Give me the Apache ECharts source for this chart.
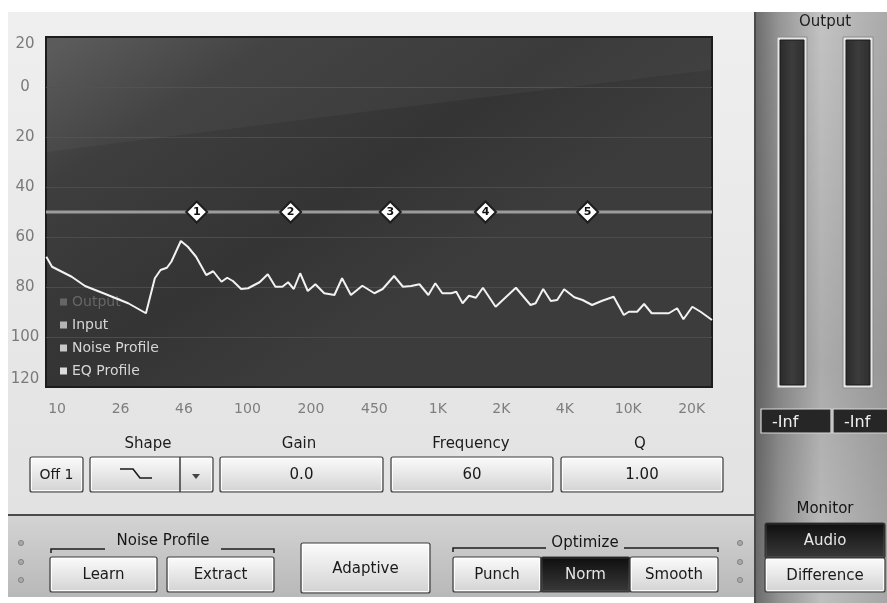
<!DOCTYPE html>
<html>
<head>
<meta charset="utf-8">
<script src="https://cdn.jsdelivr.net/npm/echarts@6/dist/echarts.min.js"></script>
<style>
html,body{margin:0;padding:0;background:#fff;}
#chart{width:887px;height:603px;}
</style>
</head>
<body>
<div id="chart"></div>
<script>
// ---- data ----
const freqLabels = ['10','26','46','100','200','450','1K','2K','4K','10K','20K'];
const freqTickPos = [0,1,2,3,4,5,6,7,8,9,10];
const xMin = -0.175, xMax = 10.32;
const yMin = -120, yMax = 20, yStep = 20;

const noiseX = [-0.17,-0.08,0.23,0.44,0.73,1.12,1.40,1.54,1.63,1.73,1.80,1.95,2.06,2.19,2.35,2.46,2.59,2.68,2.77,2.90,3.01,3.19,3.32,3.44,3.55,3.64,3.73,3.83,3.95,4.07,4.21,4.37,4.49,4.63,4.81,5.00,5.13,5.31,5.45,5.58,5.71,5.85,5.96,6.07,6.21,6.29,6.39,6.49,6.60,6.71,6.91,7.23,7.46,7.54,7.66,7.78,7.88,7.99,8.15,8.28,8.43,8.59,8.77,8.93,9.01,9.14,9.25,9.37,9.64,9.77,9.87,10.01,10.14,10.32];
const noiseDb = [-67.9,-71.9,-75.9,-79.6,-82.5,-86.5,-90.5,-76.5,-73.2,-72.3,-69.9,-61.6,-63.9,-67.9,-75.2,-73.7,-77.9,-76.3,-77.6,-80.8,-80.5,-78.1,-74.9,-79.9,-79.9,-78.1,-80.8,-74.5,-81.6,-78.9,-82.5,-83.2,-76.5,-83.2,-79.5,-82.5,-80.8,-75.6,-79.9,-79.6,-78.9,-83.2,-78.5,-82.5,-82.5,-81.9,-86.5,-83.5,-84.3,-80.3,-87.9,-80.3,-87.2,-86.5,-80.8,-85.6,-85.2,-80.9,-84.1,-85.2,-87.2,-85.5,-83.9,-91.2,-89.9,-89.9,-86.8,-90.5,-90.5,-88.5,-92.9,-87.9,-89.9,-93.2];

const eqX = [xMin, xMax];
const eqDb = [-50, -50];
const bandX = [2.2, 3.68, 5.25, 6.75, 8.36];
const bandDb = [-50, -50, -50, -50, -50];
const bandLabels = ['1','2','3','4','5'];

const legendNames = ['Output','Input','Noise Profile','EQ Profile'];

const controlLabels = ['Shape','Gain','Frequency','Q'];
const controlValues = ['0.0','60','1.00'];
const meterReadings = ['-Inf','-Inf'];

// ---- helpers ----
const FONT = 'DejaVu Sans';
function vgrad(c1, c2){ return new echarts.graphic.LinearGradient(0,0,0,1,[{offset:0,color:c1},{offset:1,color:c2}]); }
function txt(x, y, s, size, color, z){
  return {type:'text', x:x, y:y, z: z||20, silent:true,
    style:{text:s, font: size+'px "'+FONT+'"', fill:color,
      align:'center', verticalAlign:'middle', textAlign:'center', textVerticalAlign:'middle'}};
}
function button(x, y, w, h, label, dark, size){
  const els = [];
  els.push({type:'rect', z:15, silent:true, shape:{x:x, y:y, width:w, height:h, r:2},
    style:{fill: dark ? vgrad('#0e0e0e','#3a3a3a') : vgrad('#fcfcfc','#d2d2d2'), stroke:'#3c3c3c', lineWidth:1.2}});
  els.push({type:'rect', z:16, silent:true, shape:{x:x+1.5, y:y+1.5, width:w-3, height:h-3, r:1},
    style:{fill:'none', stroke: dark ? 'rgba(255,255,255,0.08)' : 'rgba(255,255,255,0.9)', lineWidth:1}});
  if (label !== null) els.push(txt(x + w/2, y + h/2 + 1, label, size || 15, dark ? '#e6e6e6' : '#1a1a1a'));
  return els;
}
function dot(x, y){
  return {type:'circle', z:15, silent:true, shape:{cx:x, cy:y, r:2.6},
    style:{fill:'#a8a8a8', stroke:'#7a7a7a', lineWidth:0.8}};
}
function bracket(x1, x2, tx1, tx2, y){
  return [
    {type:'polyline', z:15, silent:true, shape:{points:[[x1,y+4],[x1,y],[tx1,y]]}, style:{stroke:'#1e1e1e', lineWidth:1.5, fill:null}},
    {type:'polyline', z:15, silent:true, shape:{points:[[tx2,y],[x2,y],[x2,y+4]]}, style:{stroke:'#1e1e1e', lineWidth:1.5, fill:null}}
  ];
}

let G = [];
// panels
G.push({type:'rect', z:-10, silent:true, shape:{x:8,y:12,width:747,height:503}, style:{fill:vgrad('#efefef','#e2e2e2')}});
G.push({type:'rect', z:-10, silent:true, shape:{x:8,y:515,width:747,height:82}, style:{fill:vgrad('#d4d4d4','#b8b8b8')}});
G.push({type:'line', z:-9, silent:true, shape:{x1:8,y1:515,x2:755,y2:515}, style:{stroke:'#4a4a4a', lineWidth:2}});
G.push({type:'rect', z:-10, silent:true, shape:{x:755,y:12,width:132,height:591},
  style:{fill:new echarts.graphic.LinearGradient(0,0,1,0,[{offset:0,color:'#6c6c6c'},{offset:0.18,color:'#959595'},{offset:0.5,color:'#c3c3c3'},{offset:1,color:'#aaaaaa'}])}});
G.push({type:'rect', z:-9, silent:true, shape:{x:755,y:12,width:132,height:591},
  style:{fill:new echarts.graphic.LinearGradient(0,0,0,1,[{offset:0,color:'rgba(0,0,0,0)'},{offset:0.6,color:'rgba(0,0,0,0.12)'},{offset:1,color:'rgba(0,0,0,0.02)'}])}});
G.push({type:'line', z:-8, silent:true, shape:{x1:755,y1:12,x2:755,y2:603}, style:{stroke:'#4a4a4a', lineWidth:2}});

// plot sheen
G.push({type:'polygon', z:1, silent:true, shape:{points:[[47,38],[711,38],[711,70],[380,110],[47,152]]}, style:{fill:'rgba(255,255,255,0.035)'}});

// output meters
G.push(txt(825, 22, 'Output', 15, '#1c1c1c'));
[[777,37],[843,37]].forEach(function(p){
  G.push({type:'rect', z:15, silent:true, shape:{x:p[0], y:p[1], width:30, height:351}, style:{fill:'#e6e6e6', stroke:'#8a8a8a', lineWidth:1}});
  G.push({type:'rect', z:16, silent:true, shape:{x:p[0]+3, y:p[1]+3, width:24, height:345}, style:{fill:new echarts.graphic.LinearGradient(0,0,1,0,[{offset:0,color:'#2a2a2a'},{offset:0.5,color:'#3c3c3c'},{offset:1,color:'#2e2e2e'}]), stroke:'#1a1a1a', lineWidth:1}});
});
[[761,409,70],[833,409,56]].forEach(function(b, i){
  G.push({type:'rect', z:15, silent:true, shape:{x:b[0], y:b[1], width:b[2], height:24}, style:{fill:'#262626', stroke:'#d8d8d8', lineWidth:1.2}});
  G.push({type:'text', z:20, silent:true, x:b[0]+11, y:b[1]+14,
    style:{text:meterReadings[i], font:'16px "'+FONT+'"', fill:'#eeeeee', align:'left', verticalAlign:'middle', textAlign:'left', textVerticalAlign:'middle'}});
});
G.push(txt(825, 509, 'Monitor', 15, '#151515'));
G = G.concat(button(765, 523, 120, 35, 'Audio', true));
G = G.concat(button(765, 558, 120, 34, 'Difference', false));

// control row
G.push(txt(148, 444, controlLabels[0], 15, '#1c1c1c'));
G.push(txt(299, 444, controlLabels[1], 15, '#1c1c1c'));
G.push(txt(471, 444, controlLabels[2], 15, '#1c1c1c'));
G.push(txt(640, 444, controlLabels[3], 15, '#1c1c1c'));
G = G.concat(button(30, 457, 53, 35, 'Off 1', false, 14));
G = G.concat(button(90, 457, 123, 35, null, false));
G.push({type:'line', z:17, silent:true, shape:{x1:180,y1:457,x2:180,y2:492}, style:{stroke:'#3c3c3c', lineWidth:1.5}});
G.push({type:'polyline', z:18, silent:true, shape:{points:[[120,469],[133,469],[140,478],[152,478]]}, style:{stroke:'#1a1a1a', lineWidth:1.6, fill:null}});
G.push({type:'polygon', z:18, silent:true, shape:{points:[[192,474],[200,474],[196,479]]}, style:{fill:'#444'}});
G = G.concat(button(220, 457, 163, 35, controlValues[0], false));
G = G.concat(button(391, 457, 162, 35, controlValues[1], false));
G = G.concat(button(561, 457, 162, 35, controlValues[2], false));

// bottom bar
[543,562,580].forEach(function(y){ G.push(dot(21, y)); G.push(dot(740, y)); });
G.push(txt(163, 541, 'Noise Profile', 15, '#151515'));
G = G.concat(bracket(51, 274, 105, 221, 549));
G = G.concat(button(50, 557, 107, 35, 'Learn', false));
G = G.concat(button(167, 557, 107, 35, 'Extract', false));
G = G.concat(button(301, 543, 129, 50, 'Adaptive', false));
G.push(txt(585, 543, 'Optimize', 15, '#151515'));
G = G.concat(bracket(453, 718, 546, 624, 548));
G = G.concat(button(453, 557, 88, 35, 'Punch', false));
G = G.concat(button(541, 557, 89, 35, 'Norm', true));
G = G.concat(button(630, 557, 88, 35, 'Smooth', false));

// ---- chart ----
const chart = echarts.init(document.getElementById('chart'), null, {renderer:'canvas'});
const option = {
  backgroundColor:'#ffffff',
  animation:false,
  grid:{left:46, top:37, width:666, height:350, show:true,
    backgroundColor:new echarts.graphic.LinearGradient(0,0,0.35,1,[{offset:0,color:'#585858'},{offset:0.3,color:'#3e3e3e'},{offset:0.7,color:'#343434'},{offset:1,color:'#3c3c3c'}]),
    borderColor:'#1c1c1c', borderWidth:2},
  xAxis:{type:'value', min:xMin, max:xMax,
    axisLine:{show:false}, axisTick:{show:false}, splitLine:{show:false},
    axisLabel:{customValues:freqTickPos, margin:15, color:'#7e7e7e', fontSize:14, fontFamily:FONT,
      formatter:function(v){ return freqLabels[Math.round(v)] || ''; }}},
  yAxis:{type:'value', min:yMin, max:yMax, interval:yStep,
    axisLine:{show:false}, axisTick:{show:false},
    splitLine:{show:true, showMinLine:false, showMaxLine:false, lineStyle:{color:'#4c4c4c', width:1}},
    axisLabel:{margin:21, align:'center', color:'#7a7a7a', fontSize:15, fontFamily:FONT,
      verticalAlignMaxLabel:'top', verticalAlignMinLabel:'bottom',
      formatter:function(v){ return String(Math.abs(v)); }}},
  legend:{orient:'vertical', left:55, top:289, itemGap:7, itemWidth:7, itemHeight:7, icon:'rect',
    textStyle:{color:'#d6d6d6', fontSize:14, fontFamily:FONT, lineHeight:16},
    inactiveColor:'#666666', selectedMode:false,
    selected:{'Output':false},
    data:[
      {name:legendNames[0], itemStyle:{color:'#5a5a5a'}},
      {name:legendNames[1], itemStyle:{color:'#b4b4b4'}},
      {name:legendNames[2], itemStyle:{color:'#c8c8c8'}},
      {name:legendNames[3], itemStyle:{color:'#dcdcdc'}}
    ]},
  graphic:{elements:G},
  series:[
    {name:legendNames[0], type:'line', data:[], itemStyle:{color:'#666'}, symbol:'none'},
    {name:legendNames[1], type:'line', data:[], itemStyle:{color:'#b4b4b4'}, symbol:'none'},
    {name:legendNames[3], type:'line', z:3, data:eqX.map(function(x,i){return [x, eqDb[i]];}),
      symbol:'none', lineStyle:{color:'#9c9c9c', width:3}, itemStyle:{color:'#9c9c9c'}, silent:true},
    {name:legendNames[2], type:'line', z:4, data:noiseX.map(function(x,i){return [x, noiseDb[i]];}),
      symbol:'none', lineStyle:{color:'#f2f2f2', width:2}, itemStyle:{color:'#f2f2f2'}, silent:true},
    {name:'bands', type:'scatter', z:5, data:bandX.map(function(x,i){return [x, bandDb[i]];}),
      symbol:'diamond', symbolSize:21,
      itemStyle:{color:'#ffffff', borderColor:'#1e1e1e', borderWidth:2, opacity:1},
      label:{show:true, position:'inside', color:'#111', fontSize:11, fontWeight:'bold', fontFamily:FONT,
        formatter:function(p){ return bandLabels[p.dataIndex]; }},
      silent:true}
  ]
};
chart.setOption(option);
</script>
</body>
</html>
